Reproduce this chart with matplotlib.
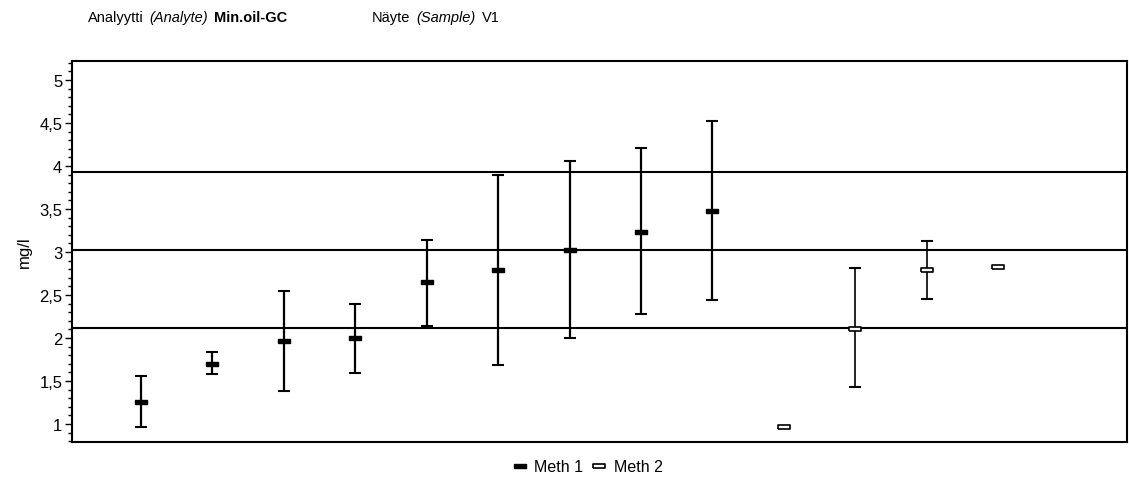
import numpy as np
import matplotlib
matplotlib.use("Agg")
import matplotlib.pyplot as plt
from matplotlib.ticker import MultipleLocator, FuncFormatter
from matplotlib.lines import Line2D

plt.rcParams['font.family'] = ['Liberation Sans', 'DejaVu Sans']

# Meth 1 results (lab index, mean, lower/upper bar end)
meth1_x = [1, 2, 3, 4, 5, 6, 7, 8, 9]
meth1_y = [1.25, 1.70, 1.96, 2.00, 2.65, 2.79, 3.02, 3.23, 3.48]
meth1_lo = [0.96, 1.58, 1.38, 1.59, 2.14, 1.69, 2.00, 2.28, 2.44]
meth1_hi = [1.56, 1.84, 2.55, 2.40, 3.14, 3.90, 4.06, 4.21, 4.52]

# Meth 2 results (None = no error bar reported)
meth2_x = [10, 11, 12, 13]
meth2_y = [0.97, 2.10, 2.79, 2.82]
meth2_lo = [None, 1.43, 2.45, None]
meth2_hi = [None, 2.81, 3.13, None]

# assigned value and +/-30 % limits
ref_lines = [2.11, 3.02, 3.93]

RECT = [(-1, -0.38), (1, -0.38), (1, 0.38), (-1, 0.38), (-1, -0.38)]
W, H = 1129, 485

fig = plt.figure(figsize=(11.29, 4.85), dpi=100)
ax = fig.add_axes([0.0638, 0.0866, 0.9345, 0.7856])

for v in ref_lines:
    ax.axhline(v, color="black", linewidth=1.5, zorder=1)

# error bars
err1 = [np.array(meth1_y) - np.array(meth1_lo), np.array(meth1_hi) - np.array(meth1_y)]
ax.errorbar(meth1_x, meth1_y, yerr=err1, fmt="none", ecolor="black",
            elinewidth=1.6, capsize=4, capthick=1.5, zorder=2)

m2 = [i for i in range(len(meth2_x)) if meth2_lo[i] is not None]
x2 = [meth2_x[i] for i in m2]
y2 = np.array([meth2_y[i] for i in m2])
err2 = [y2 - np.array([meth2_lo[i] for i in m2]), np.array([meth2_hi[i] for i in m2]) - y2]
ax.errorbar(x2, y2, yerr=err2, fmt="none", ecolor="black",
            elinewidth=1.2, capsize=4, capthick=1.5, zorder=2)

ax.plot(meth1_x, meth1_y, linestyle="none", marker=RECT, markersize=9,
        markerfacecolor="black", markeredgecolor="black", zorder=3)
ax.plot(meth2_x, meth2_y, linestyle="none", marker=RECT, markersize=9,
        markerfacecolor="white", markeredgecolor="black", markeredgewidth=1.2, zorder=3)

ax.set_xlim(0.04, 14.8)
ax.set_ylim(0.79, 5.22)
ax.set_xticks([])
ax.yaxis.set_major_locator(MultipleLocator(0.5))
ax.yaxis.set_minor_locator(MultipleLocator(0.1))
ax.yaxis.set_major_formatter(FuncFormatter(lambda v, p: f"{v:g}".replace(".", ",")))
ax.tick_params(axis="y", which="major", length=5, width=1, labelsize=12, pad=2)
ax.tick_params(axis="y", which="minor", length=3, width=1)
for s in ax.spines.values():
    s.set_linewidth(1.5)
ax.set_ylabel("mg/l", fontsize=12, labelpad=5)


def header(x0, parts, size=10.5, gap=6):
    """Place text pieces one after another along the header line."""
    renderer = fig.canvas.get_renderer()
    x = x0
    for txt, kw in parts:
        t = fig.text(x / W, 1 - 18 / H, txt, fontsize=size, va="center", **kw)
        bb = t.get_window_extent(renderer=renderer)
        x += bb.width + gap


header(88, [("Analyytti", {}), ("(Analyte)", {"style": "italic"}),
            ("Min.oil-GC", {"weight": "bold"})])
header(372, [("Näyte", {}), ("(Sample)", {"style": "italic"}), ("V1", {})])

handles = [
    Line2D([], [], linestyle="none", marker=RECT, markersize=9,
           markerfacecolor="black", markeredgecolor="black"),
    Line2D([], [], linestyle="none", marker=RECT, markersize=9,
           markerfacecolor="white", markeredgecolor="black", markeredgewidth=1.2),
]
fig.legend(handles, ["Meth 1", "Meth 2"], loc="center", bbox_to_anchor=(588 / W, 1 - 468 / H),
           ncol=2, frameon=False, fontsize=11.5, handlelength=0.8, handletextpad=0.5,
           columnspacing=0.6)

fig.savefig("out.png", dpi=100)
